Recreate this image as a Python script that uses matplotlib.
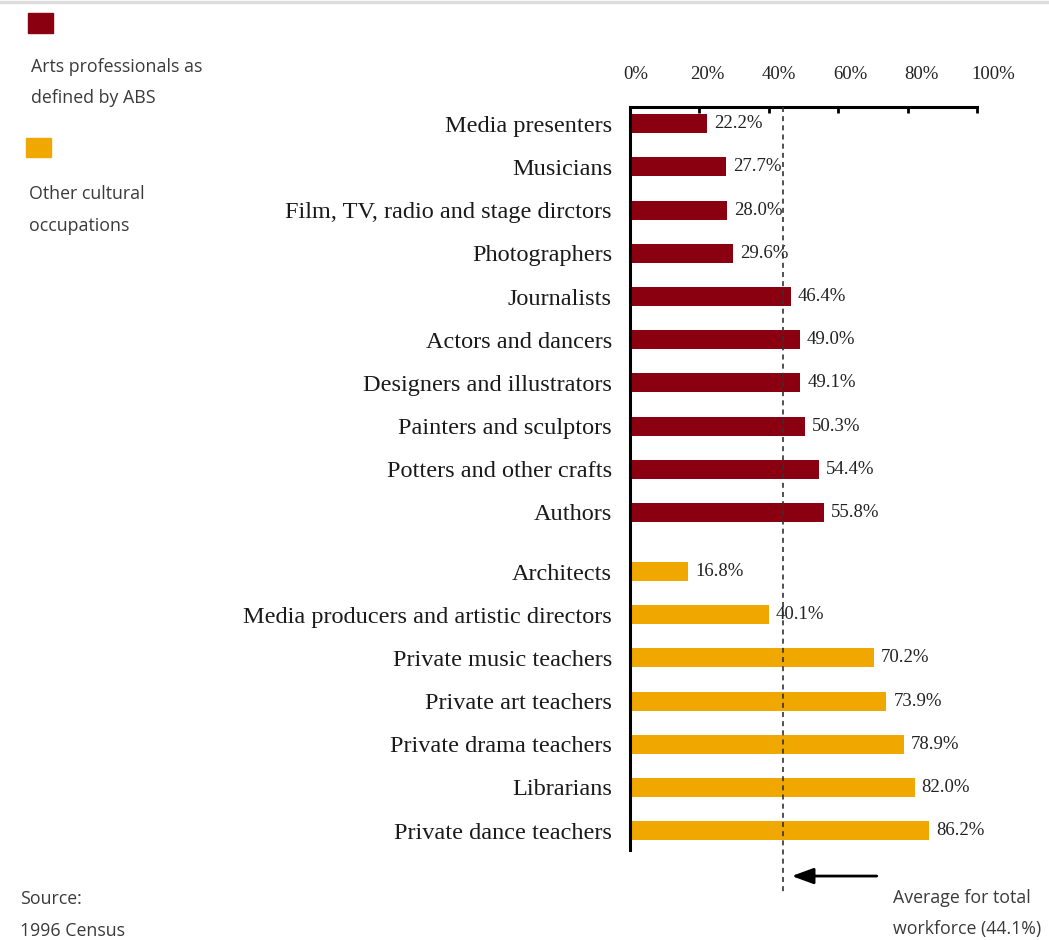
import matplotlib.pyplot as plt
from matplotlib.transforms import blended_transform_factory
from matplotlib.patches import Rectangle
from matplotlib.lines import Line2D

# Share of women in each occupation, 1996 Census
arts_jobs = [
    "Media presenters", "Musicians", "Film, TV, radio and stage dirctors",
    "Photographers", "Journalists", "Actors and dancers",
    "Designers and illustrators", "Painters and sculptors",
    "Potters and other crafts", "Authors",
]
arts_pct = [22.2, 27.7, 28.0, 29.6, 46.4, 49.0, 49.1, 50.3, 54.4, 55.8]

other_jobs = [
    "Architects", "Media producers and artistic directors",
    "Private music teachers", "Private art teachers",
    "Private drama teachers", "Librarians", "Private dance teachers",
]
other_pct = [16.8, 40.1, 70.2, 73.9, 78.9, 82.0, 86.2]

workforce_avg = 44.1
x_ticks = [0, 20, 40, 60, 80, 100]

RED = "#8b0011"
ORANGE = "#f0a800"
SERIF = "Liberation Serif"
SANS = "Open Sans"
GREY_TXT = "#3a3a3a"

fig = plt.figure(figsize=(10.49, 9.40), dpi=100)
ax = fig.add_axes([0.6006, 0.0957, 0.3308, 0.7905])

# row positions: second group sits a little further down
gap = 1.37
y_arts = list(range(len(arts_jobs)))
y_other = [len(arts_jobs) - 1 + gap + i for i in range(len(other_jobs))]

bar_h = 0.44
ax.barh(y_arts, arts_pct, height=bar_h, color=RED)
ax.barh(y_other, other_pct, height=bar_h, color=ORANGE)

for y, v in zip(y_arts + y_other, arts_pct + other_pct):
    ax.text(v + 2.0, y, f"{v:.1f}%", va="center", ha="left",
            fontsize=13.5, family=SERIF, color="#222222")

ax.set_ylim(y_other[-1] + 0.45, -0.39)
ax.set_xlim(0, 100)

ax.set_yticks(y_arts + y_other)
ax.set_yticklabels(arts_jobs + other_jobs, family=SERIF, fontsize=17.5, color="#1a1a1a")
ax.tick_params(axis="y", length=0, pad=13)
for lbl in ax.get_yticklabels():
    lbl.set_y(lbl.get_position()[1])
    lbl.set_va("center_baseline")

ax.xaxis.tick_top()
ax.set_xticks(x_ticks)
ax.set_xticklabels([])
ax.tick_params(axis="x", direction="in", length=4.5, width=2, color="black")
for t in x_ticks:
    ax.annotate(f"{t}%", xy=(t, 1), xycoords=("data", "axes fraction"),
                xytext=(4 + 0.075 * t, 17), textcoords="offset points",
                ha="center", va="bottom", fontsize=13.5, family=SERIF,
                color="#222222")

for s in ["right", "bottom"]:
    ax.spines[s].set_visible(False)
ax.spines["top"].set_linewidth(2.2)
ax.spines["left"].set_linewidth(2.2)

# average line for the whole workforce
trans = blended_transform_factory(ax.transData, ax.transAxes)
ax.plot([workforce_avg, workforce_avg], [1, -0.06], transform=trans,
        color="#333333", lw=1.2, ls=(0, (3, 2.5)), clip_on=False, zorder=3)
ax.annotate("", xy=(workforce_avg + 2.5, -0.035), xycoords=trans,
            xytext=(workforce_avg + 27, -0.035), textcoords=trans,
            arrowprops=dict(arrowstyle="-|>,head_length=0.6,head_width=0.22",
                            color="black", lw=2, mutation_scale=22,
                            shrinkA=0, shrinkB=0))

fig.text(893 / 1049, 1 - 898 / 940, "Average for total", fontsize=12.8,
         family=SANS, color=GREY_TXT, va="center", ha="left")
fig.text(893 / 1049, 1 - 929 / 940, "workforce (44.1%)", fontsize=12.8,
         family=SANS, color=GREY_TXT, va="center", ha="left")

# legend on the left
fig.patches.append(Rectangle((28 / 1049, 1 - 33 / 940), 25 / 1049, 20 / 940,
                             transform=fig.transFigure, color=RED))
fig.patches.append(Rectangle((26 / 1049, 1 - 157 / 940), 25 / 1049, 19 / 940,
                             transform=fig.transFigure, color=ORANGE))
legend_lines = [
    (31, 67, "Arts professionals as"),
    (31, 98, "defined by ABS"),
    (29, 194, "Other cultural"),
    (29, 226, "occupations"),
    (20, 899, "Source:"),
    (20, 931, "1996 Census"),
]
for x, y, s in legend_lines:
    fig.text(x / 1049, 1 - y / 940, s, fontsize=12.8, family=SANS,
             color=GREY_TXT, va="center", ha="left")

# thin rule along the top edge
fig.lines.append(Line2D([0, 1], [0.998, 0.998], transform=fig.transFigure,
                        color="#dddddd", lw=2.5))

fig.savefig("out.png", dpi=100, facecolor="white")
